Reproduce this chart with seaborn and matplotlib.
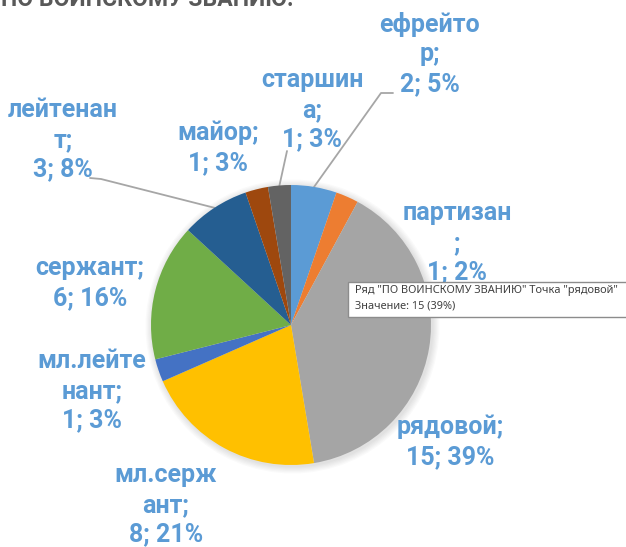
import numpy as np
import matplotlib
matplotlib.use('Agg')
import matplotlib.pyplot as plt
import seaborn as sns

sns.set_theme(style='white')
plt.rcParams['font.family'] = ['Roboto', 'DejaVu Sans']

# Data
ranks = ['ефрейтор', 'партизан', 'рядовой', 'мл.сержант', 'мл.лейтенант',
         'сержант', 'лейтенант', 'майор', 'старшина']
counts = [2, 1, 15, 8, 1, 6, 3, 1, 1]
pct_shown = [5, 2, 39, 21, 3, 16, 8, 3, 3]
# category names as Excel wrapped them in the labels
wrapped = ['ефрейто\nр;', 'партизан\n;', 'рядовой;', 'мл.серж\nант;', 'мл.лейте\nнант;',
           'сержант;', 'лейтенан\nт;', 'майор;', 'старшин\nа;']
colors = ['#5B9BD5', '#ED7D31', '#A5A5A5', '#FFC000', '#4472C4',
          '#70AD47', '#255E91', '#9E480E', '#636363']

W, H = 626, 547
fig = plt.figure(figsize=(W / 100, H / 100), dpi=100)
ax = fig.add_axes([0, 0, 1, 1])

cx, cy, R = 291, H - 325, 140

# soft shadow around the pie
for k in range(6):
    ax.add_patch(plt.Circle((cx + 1.5, cy - 1.5), R + 1 + k * 1.2,
                            color='black', alpha=0.018, lw=0, zorder=0))

ax.pie(counts, colors=colors, startangle=90, counterclock=False,
       center=(cx, cy), radius=R, frame=True,
       wedgeprops=dict(linewidth=0, zorder=2))
ax.set_xlim(0, W)
ax.set_ylim(0, H)
ax.set_aspect('equal')
ax.axis('off')

# label anchor positions (pixels from top-left)
label_pos = {
    'ефрейтор': (430, 54),
    'партизан': (457, 243),
    'рядовой': (450, 442),
    'мл.сержант': (166, 505),
    'мл.лейтенант': (92, 391),
    'сержант': (90, 283),
    'лейтенант': (63, 140),
    'майор': (218, 148),
    'старшина': (312, 110),
}
# leader lines start (pixels), only for some labels
leader_start = {
    'ефрейтор': [(393, 93), (381, 93)],
    'старшина': [(287, 151)],
    'лейтенант': [(90, 178), (101, 179)],
}

lab_color = '#5B9BD5'
total = sum(counts)
cum = np.cumsum([0] + counts)
for i, name in enumerate(ranks):
    txt = f'{wrapped[i]}\n{counts[i]}; {pct_shown[i]}%'
    x, y = label_pos[name]
    ax.text(x, H - y, txt, ha='center', va='center', color=lab_color,
            fontsize=18, fontweight='bold', linespacing=1.3, zorder=3)
    if name in leader_start:
        mid = (cum[i] + cum[i + 1]) / 2 / total * 2 * np.pi
        ex, ey = cx + R * np.sin(mid), cy + R * np.cos(mid)
        pts = leader_start[name]
        xs = [p[0] for p in pts] + [ex]
        ys = [H - p[1] for p in pts] + [ey]
        ax.plot(xs, ys, color='#A6A6A6', lw=1.3, zorder=1)

# title, cut off at the top of the screenshot
fig.text(293 / W, 1 - 6 / H, 'ПО ВОИНСКОМУ ЗВАНИЮ:', ha='right', va='baseline',
         color='#595959', fontsize=16.6, fontweight='bold')

# hover tooltip
ax.add_patch(plt.Rectangle((348, H - 317), 290, 35, facecolor='white',
                           edgecolor='#8C8C8C', lw=1, zorder=5))
ax.text(355, H - 291, 'Ряд "ПО ВОИНСКОМУ ЗВАНИЮ" Точка "рядовой"', fontsize=7.9,
        family=['Noto Sans', 'DejaVu Sans'], color='#404040', va='center', ha='left', zorder=6)
ax.text(355, H - 306, 'Значение: 15 (39%)', fontsize=7.9,
        family=['Noto Sans', 'DejaVu Sans'], color='#404040', va='center', ha='left', zorder=6)

fig.savefig('out.png', dpi=100, facecolor='white')
